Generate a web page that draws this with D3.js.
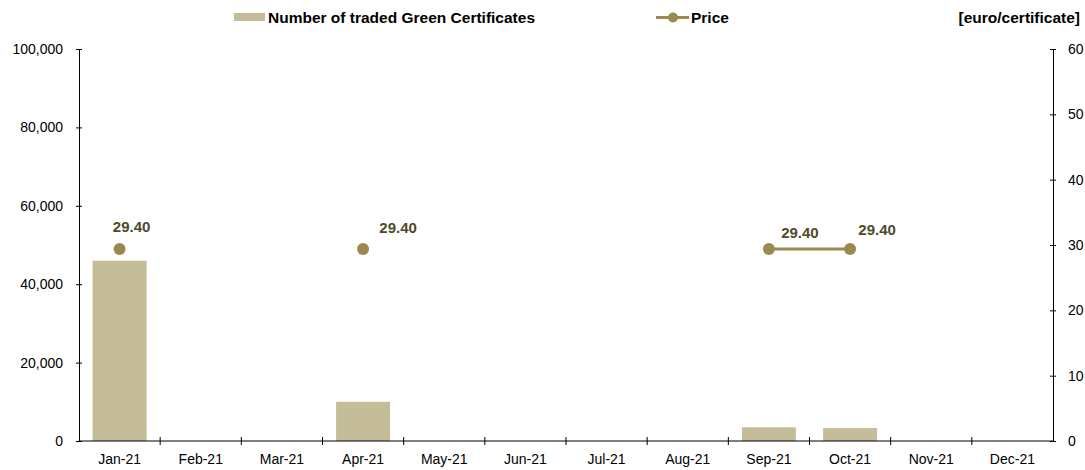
<!DOCTYPE html>
<html>
<head>
<meta charset="utf-8">
<script src="https://cdn.jsdelivr.net/npm/d3@7"></script>
<style>
  body { margin: 0; background: #fff; }
  svg { display: block; }
  svg text { font-family: "Liberation Sans", Arial, sans-serif; }
  .axis path, .axis line { stroke: #000; stroke-width: 1; }
  .axis text { font-size: 14px; fill: #000; }
  .legend text { font-size: 15.5px; font-weight: bold; fill: #000; }
  .lbl { font-size: 15px; font-weight: bold; fill: #4f4a2a; }
</style>
</head>
<body>
<svg id="chart" width="1085" height="470"></svg>
<script>
// Green certificates traded per month in 2021, with the monthly price.
const months = ["Jan-21", "Feb-21", "Mar-21", "Apr-21", "May-21", "Jun-21",
  "Jul-21", "Aug-21", "Sep-21", "Oct-21", "Nov-21", "Dec-21"];
const volumes = [46000, 0, 0, 10000, 0, 0, 0, 0, 3500, 3300, 0, 0];
const prices = [29.4, null, null, 29.4, null, null, null, null, 29.4, 29.4, null, null];
const volTicks = [0, 20000, 40000, 60000, 80000, 100000];
const priceTicks = [0, 10, 20, 30, 40, 50, 60];

const W = 1085, H = 470;
const M = { left: 79, right: 32, top: 49, bottom: 29 };
const BAR = "#c5bd98";
const LINE = "#9a8a50";

const svg = d3.select("#chart");
const x = d3.scaleBand().domain(months).range([M.left, W - M.right]).paddingInner(0.335).paddingOuter(0.1675);
const yL = d3.scaleLinear().domain([0, 100000]).range([H - M.bottom, M.top]);
const yR = d3.scaleLinear().domain([0, 60]).range([H - M.bottom, M.top]);

// bars
svg.append("g").selectAll("rect")
  .data(months.map((m, i) => ({ m, v: volumes[i] })).filter(d => d.v > 0))
  .join("rect")
  .attr("x", d => x(d.m))
  .attr("width", x.bandwidth())
  .attr("y", d => yL(d.v))
  .attr("height", d => yL(0) - yL(d.v))
  .attr("fill", BAR);

// axes — ticks cross the axis line like the office-chart original
const fmt = d3.format(",");
const left = svg.append("g").attr("class", "axis")
  .attr("transform", `translate(${M.left},0)`)
  .call(d3.axisLeft(yL).tickValues(volTicks).tickFormat(fmt).tickSizeInner(3).tickSizeOuter(0).tickPadding(13));
left.selectAll(".tick line").attr("x1", 3).attr("x2", -3);

const right = svg.append("g").attr("class", "axis")
  .attr("transform", `translate(${W - M.right},0)`)
  .call(d3.axisRight(yR).tickValues(priceTicks).tickSizeInner(3).tickSizeOuter(0).tickPadding(12));
right.selectAll(".tick line").attr("x1", -3).attr("x2", 3);

const step = x.step();
const bottom = svg.append("g").attr("class", "axis")
  .attr("transform", `translate(0,${H - M.bottom})`)
  .call(d3.axisBottom(x).tickSize(0).tickPadding(13));
bottom.select(".domain").attr("d", `M${M.left},0H${W - M.right}`);
// separators between month bands
bottom.selectAll("line.sep")
  .data(d3.range(1, months.length))
  .join("line")
  .attr("class", "sep")
  .attr("x1", i => M.left + i * step).attr("x2", i => M.left + i * step)
  .attr("y1", -4).attr("y2", 4)
  .attr("stroke", "#000");

// price line — only joins consecutive months that have a price
const cx = m => x(m) + x.bandwidth() / 2;
const pts = months.map((m, i) => ({ m, p: prices[i] }));
svg.append("path")
  .datum(pts)
  .attr("fill", "none")
  .attr("stroke", LINE)
  .attr("stroke-width", 3)
  .attr("d", d3.line().defined(d => d.p != null).x(d => cx(d.m)).y(d => yR(d.p)));

svg.append("g").selectAll("circle")
  .data(pts.filter(d => d.p != null))
  .join("circle")
  .attr("cx", d => cx(d.m))
  .attr("cy", d => yR(d.p))
  .attr("r", 6)
  .attr("fill", LINE);

// data labels, nudged per point the way the original sits
const labelNudge = { "Jan-21": [12, -17], "Apr-21": [35, -16], "Sep-21": [31, -11], "Oct-21": [27, -14] };
svg.append("g").selectAll("text")
  .data(pts.filter(d => d.p != null))
  .join("text")
  .attr("class", "lbl")
  .attr("text-anchor", "middle")
  .attr("x", d => cx(d.m) + (labelNudge[d.m] || [0, -12])[0])
  .attr("y", d => yR(d.p) + (labelNudge[d.m] || [0, -12])[1])
  .text(d => d.p.toFixed(2));

// legend
const lg = svg.append("g").attr("class", "legend");
lg.append("rect").attr("x", 234).attr("y", 13).attr("width", 31).attr("height", 8).attr("fill", BAR);
lg.append("text").attr("x", 268).attr("y", 23).text("Number of traded Green Certificates");
lg.append("line").attr("x1", 656).attr("x2", 689).attr("y1", 17.5).attr("y2", 17.5).attr("stroke", LINE).attr("stroke-width", 3);
lg.append("circle").attr("cx", 673).attr("cy", 17.5).attr("r", 5).attr("fill", LINE);
lg.append("text").attr("x", 691).attr("y", 23).text("Price");
lg.append("text").attr("x", 1080).attr("y", 23).attr("text-anchor", "end").text("[euro/certificate]");
</script>
</body>
</html>
